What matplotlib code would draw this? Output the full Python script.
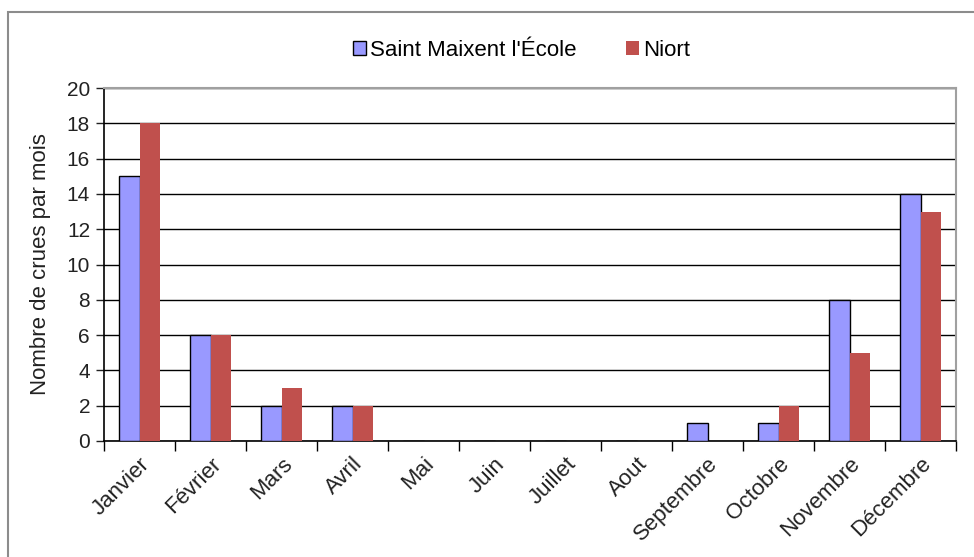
import numpy as np
import matplotlib
matplotlib.use('Agg')
import matplotlib.pyplot as plt
from matplotlib.patches import Rectangle

mois = ['Janvier', 'Février', 'Mars', 'Avril', 'Mai', 'Juin', 'Juillet',
        'Aout', 'Septembre', 'Octobre', 'Novembre', 'Décembre']
saint_maixent = [15, 6, 2, 2, 0, 0, 0, 0, 1, 1, 8, 14]
niort = [18, 6, 3, 2, 0, 0, 0, 0, 0, 2, 5, 13]
yticks = list(range(0, 21, 2))

plt.rcParams['font.family'] = ['Liberation Sans', 'DejaVu Sans']

fig = plt.figure(figsize=(9.74, 5.57), dpi=100)
ax = fig.add_axes([104/974, 1-441/557, 852/974, 353/557])

# outer chart frame, cut by the picture edge on the right and bottom
fig.patches.append(Rectangle((8/974, -0.05), 1.0, 1-12/557+0.05,
                             transform=fig.transFigure, fill=False,
                             edgecolor='#8c8c8c', linewidth=1.5))

x = np.arange(len(mois))
w = 0.29
ax.bar(x - w/2, saint_maixent, w, color='#9999ff', edgecolor='black',
       linewidth=1.0, label="Saint Maixent l'École", zorder=3)
ax.bar(x + w/2, niort, w, color='#c0504d', edgecolor='none',
       label='Niort', zorder=3)

ax.set_xlim(-0.5, len(mois) - 0.5)
ax.set_ylim(0, 20)
ax.set_yticks(yticks)
ax.tick_params(axis='y', direction='out', length=6, width=1, labelsize=15,
               colors='#222222', pad=4)
ax.set_xticks(x)
ax.set_xticklabels(mois, rotation=45, ha='right', rotation_mode='anchor',
                   fontsize=16, color='#222222')
ax.tick_params(axis='x', length=0, pad=9)
ax.set_xticks(np.arange(-0.5, len(mois)), minor=True)
ax.tick_params(axis='x', which='minor', direction='out', length=7, width=1)

ax.grid(axis='y', color='black', linewidth=1, zorder=0)
ax.set_axisbelow(True)
for s in ['left', 'bottom']:
    ax.spines[s].set_color('black')
    ax.spines[s].set_linewidth(1.2)
for s in ['top', 'right']:
    ax.spines[s].set_color('#a0a0a0')
    ax.spines[s].set_linewidth(1.5)

ax.set_ylabel('Nombre de crues par mois', fontsize=16, labelpad=11,
              color='#222222')

leg = ax.legend(loc='lower center', bbox_to_anchor=(0.49, 1.02), ncol=2,
                frameon=False, fontsize=16, handlelength=0.6,
                handleheight=0.6, handletextpad=0.2, columnspacing=2.2)

fig.savefig('out.png', dpi=100)
